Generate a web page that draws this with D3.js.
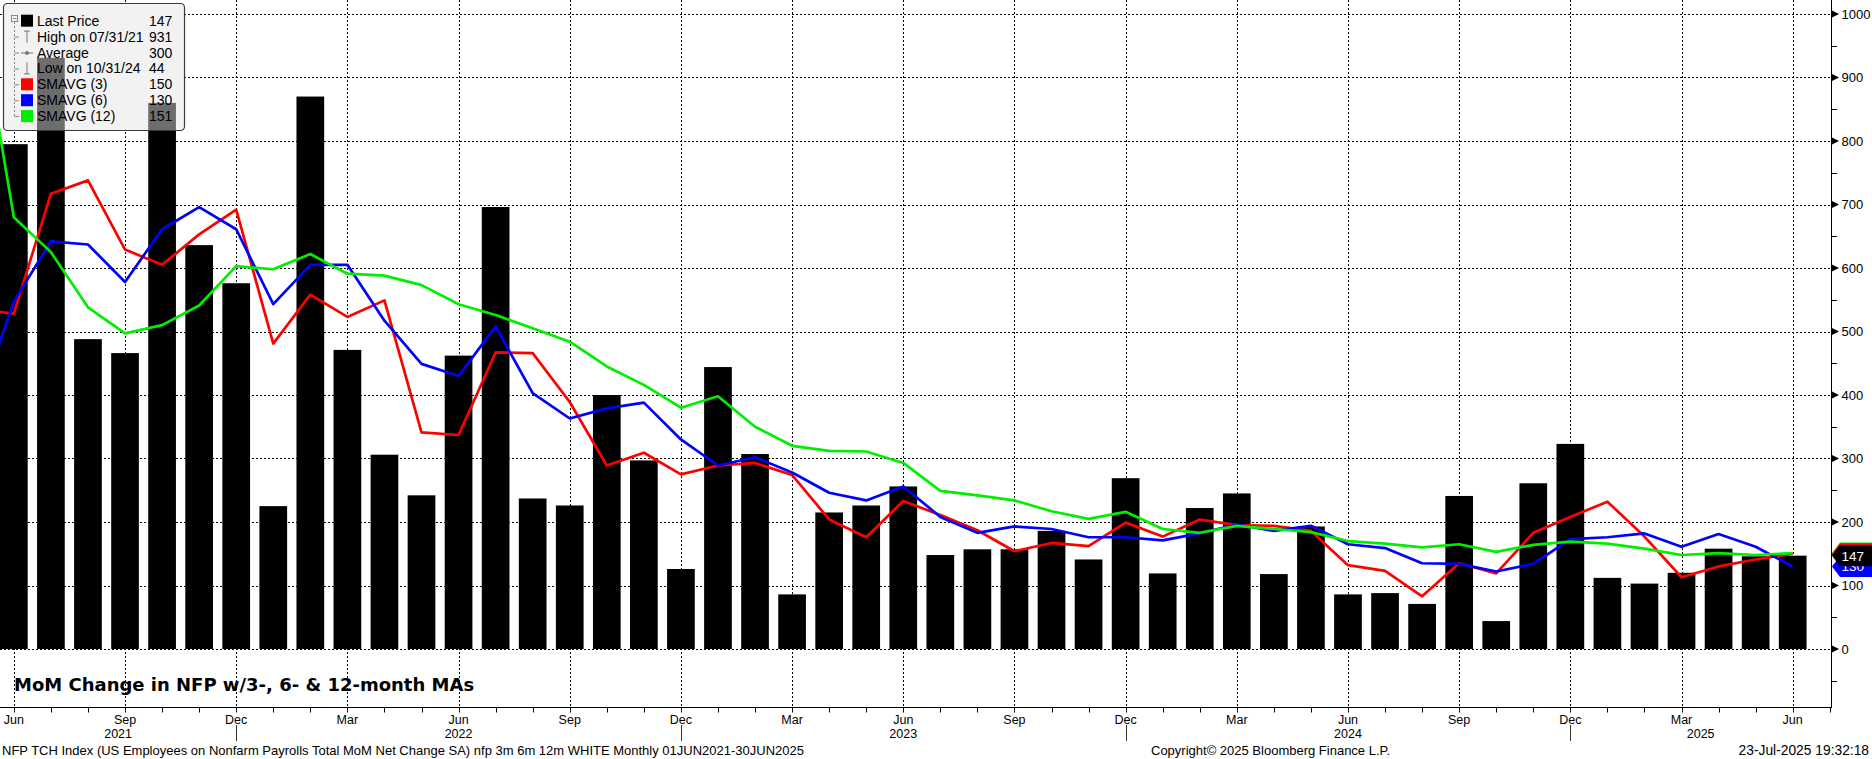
<!DOCTYPE html>
<html><head><meta charset="utf-8">
<script src="https://cdn.jsdelivr.net/npm/d3@7/dist/d3.min.js"></script>
<style>
html,body{margin:0;padding:0;background:#fff;overflow:hidden}
svg{display:block}
</style></head><body>
<svg id="chart" width="1872" height="759"></svg>
<script>
// ---------- DATA ----------
const months = ["2021-06","2021-07","2021-08","2021-09","2021-10","2021-11","2021-12",
"2022-01","2022-02","2022-03","2022-04","2022-05","2022-06","2022-07","2022-08","2022-09","2022-10","2022-11","2022-12",
"2023-01","2023-02","2023-03","2023-04","2023-05","2023-06","2023-07","2023-08","2023-09","2023-10","2023-11","2023-12",
"2024-01","2024-02","2024-03","2024-04","2024-05","2024-06","2024-07","2024-08","2024-09","2024-10","2024-11","2024-12",
"2025-01","2025-02","2025-03","2025-04","2025-05","2025-06"];
// MoM change in NFP (thousands)
const nfpChange = [795,931,488,466,860,636,576,
225,870,471,306,242,462,696,237,226,400,297,126,
444,307,86,215,226,256,148,157,157,186,141,269,
119,222,245,118,193,86,88,71,241,44,261,323,
112,103,120,158,146,147];
// Moving averages: first value is May 2021 (just left of the plot), then Jun 2021 .. Jun 2025
const sma3 = [536,528,717,738,629,605,653,692,
481,558,523,549,341,337,467,466,389,289,309,275,
289,293,274,204,176,233,211,187,154,167,162,199,
177,204,195,194,186,132,123,83,135,119,183,208,
232,177,113,130,141,150];
const sma6 = [378,547,642,637,578,661,696,661,
543,605,605,517,449,430,508,403,363,379,388,330,
289,302,278,246,234,256,208,183,193,189,176,176,
171,182,196,186,194,165,159,135,134,122,134,173,
176,182,161,181,161,130];
const sma12 = [1026,680,625,538,497,510,541,603,
598,622,591,588,573,543,526,505,484,445,416,380,
398,350,320,312,311,293,249,242,234,217,205,216,
189,183,194,189,184,170,166,160,165,153,164,169,
166,158,148,151,148,151];
const yTickValues = [0,100,200,300,400,500,600,700,800,900,1000];
const yMinorTicks = [-50,50,150,250,350,450,550,650,750,850,950];
const monthNames = ["Jan","Feb","Mar","Apr","May","Jun","Jul","Aug","Sep","Oct","Nov","Dec"];
const yearLabels = ["2021","2022","2023","2024","2025"];
const legendLabels = ["Last Price","High on 07/31/21","Average","Low on 10/31/24","SMAVG (3)","SMAVG (6)","SMAVG (12)"];
const legendValues = ["147","931","300","44","150","130","151"];
const flagValues = [{v:151,c:"#00ee00",t:""},{v:150,c:"#ff0000",t:""},{v:130,c:"#0000ff",t:"130"},{v:147,c:"#000000",t:"147"}];
const titleText = "MoM Change in NFP w/3-, 6- & 12-month MAs";
const footerLeft = "NFP TCH Index (US Employees on Nonfarm Payrolls Total MoM Net Change SA) nfp 3m 6m 12m WHITE  Monthly 01JUN2021-30JUN2025";
const footerMid = "Copyright\u00A9 2025 Bloomberg Finance L.P.";
const footerRight = "23-Jul-2025 19:32:18";

// ---------- LAYOUT ----------
const plotR = 1831, axisY = 707.5;
const svg = d3.select("#chart");
const x = d3.scaleLinear().domain([0, months.length-1]).range([13.85, 1792.7]);
const y = d3.scaleLinear().domain([0,1000]).range([649,14]);
const barW = 27.7;
const COL = {red:"#ff0000", blue:"#0000ff", green:"#00ee00"};
const FONT = "'Liberation Sans', Arial, sans-serif";

svg.append("rect").attr("width",1872).attr("height",759).attr("fill","#fff");
svg.append("defs").append("clipPath").attr("id","plotclip")
  .append("rect").attr("x",0).attr("y",0).attr("width",plotR).attr("height",axisY);

// gridlines
const grid = svg.append("g").attr("stroke","#000").attr("stroke-width",1).attr("stroke-dasharray","2,2");
yTickValues.forEach(v=>{
  const yy = Math.round(y(v))+0.5;
  grid.append("line").attr("x1",0).attr("x2",plotR).attr("y1",yy).attr("y2",yy);
});
months.forEach((m,i)=>{
  if (i%3===0){
    const xx = Math.round(x(i))+0.5;
    grid.append("line").attr("x1",xx).attr("x2",xx).attr("y1",0).attr("y2",axisY);
  }
});

// legend geometry
const LG = {x:3.5, y:3.5, w:181, h:127, rx:4};
svg.append("rect").attr("x",LG.x).attr("y",LG.y).attr("width",LG.w).attr("height",LG.h).attr("rx",LG.rx)
  .attr("fill","#f2f2f2");

// bars
svg.append("g").attr("clip-path","url(#plotclip)").selectAll("rect").data(nfpChange).join("rect")
  .attr("x",(d,i)=>x(i)-barW/2).attr("width",barW)
  .attr("y",d=>y(d)).attr("height",d=>y(0)-y(d)).attr("fill","#000");

// legend translucent overlay
svg.append("rect").attr("x",LG.x).attr("y",LG.y).attr("width",LG.w).attr("height",LG.h).attr("rx",LG.rx)
  .attr("fill","#f2f2f2").attr("fill-opacity",0.45).attr("stroke","#3a3a3a").attr("stroke-width",1.2);

// lines
const lineGen = d3.line().x((d,i)=>x(i-1)).y(d=>y(d));
const lg = svg.append("g").attr("clip-path","url(#plotclip)").attr("fill","none").attr("stroke-width",2.7).attr("stroke-linejoin","round");
[[sma3,COL.red],[sma6,COL.blue],[sma12,COL.green]].forEach(([arr,c])=>{
  lg.append("path").attr("d",lineGen(arr)).attr("stroke",c);
});

// legend contents
const rowY = i => 20.7 + i*15.9;
const leg = svg.append("g");
leg.append("rect").attr("x",11.5).attr("y",15.5).attr("width",6).attr("height",6).attr("fill","none").attr("stroke","#888").attr("stroke-width",1);
leg.append("line").attr("x1",13).attr("x2",16.5).attr("y1",18.5).attr("y2",18.5).attr("stroke","#888");
leg.append("line").attr("x1",14.5).attr("x2",14.5).attr("y1",22).attr("y2",rowY(6)).attr("stroke","#888").attr("stroke-dasharray","2,2");
legendLabels.forEach((t,i)=>{
  const cy = rowY(i);
  if (i>0) leg.append("line").attr("x1",14.5).attr("x2",19).attr("y1",cy+0.5).attr("y2",cy+0.5).attr("stroke","#888");
  const ic = leg.append("g").attr("stroke","#777").attr("stroke-width",1).attr("fill","none");
  if (i===0) leg.append("rect").attr("x",21).attr("y",cy-6).attr("width",12).attr("height",12).attr("fill","#000");
  else if (i===1){ ic.append("line").attr("x1",24).attr("x2",30).attr("y1",cy-5.5).attr("y2",cy-5.5); ic.append("line").attr("x1",27).attr("x2",27).attr("y1",cy-5.5).attr("y2",cy+6); }
  else if (i===2){ ic.append("line").attr("x1",21).attr("x2",33).attr("y1",cy+0.5).attr("y2",cy+0.5); ic.append("circle").attr("cx",27).attr("cy",cy+0.5).attr("r",1.5).attr("fill","#777"); }
  else if (i===3){ ic.append("line").attr("x1",24).attr("x2",30).attr("y1",cy+5.5).attr("y2",cy+5.5); ic.append("line").attr("x1",27).attr("x2",27).attr("y1",cy-6).attr("y2",cy+5.5); }
  else { const c=[COL.red,COL.blue,COL.green][i-4]; leg.append("rect").attr("x",21).attr("y",cy-6).attr("width",12).attr("height",12).attr("fill",c); }
  leg.append("text").attr("x",37).attr("y",cy).attr("dy","0.36em").attr("font-family",FONT).attr("font-size",14).attr("fill","#000").text(t);
  leg.append("text").attr("x",149).attr("y",cy).attr("dy","0.36em").attr("font-family",FONT).attr("font-size",14).attr("fill","#000").text(legendValues[i]);
});

// right axis
const ax = svg.append("g");
ax.append("line").attr("x1",plotR+0.5).attr("x2",plotR+0.5).attr("y1",0).attr("y2",axisY).attr("stroke","#000");
yTickValues.forEach(v=>{
  const yy = y(v);
  ax.append("path").attr("d",`M${plotR+1},${yy-3.5}L${plotR+8},${yy}L${plotR+1},${yy+3.5}Z`).attr("fill","#000");
  ax.append("text").attr("x",plotR+10.5).attr("y",yy).attr("dy","0.36em").attr("font-family",FONT).attr("font-size",13).attr("fill","#000").text(v);
});
yMinorTicks.forEach(v=>{
  const yy = Math.round(y(v))+0.5;
  ax.append("line").attr("x1",plotR).attr("x2",plotR+6).attr("y1",yy).attr("y2",yy).attr("stroke","#000");
});
// last value flags (the ones fully covered carry no visible text)
flagValues.forEach(f=>{
  const cy = y(f.v), h = 21;
  ax.append("path").attr("d",`M${plotR+1},${cy}L${plotR+9},${cy-h/2}L1872,${cy-h/2}L1872,${cy+h/2}L${plotR+9},${cy+h/2}Z`).attr("fill",f.c);
  if (f.t) ax.append("text").attr("x",plotR+10.5).attr("y",cy).attr("dy","0.36em").attr("font-family",FONT).attr("font-size",13.5).attr("fill","#fff").text(f.t);
});

// x axis
const xa = svg.append("g");
xa.append("line").attr("x1",0).attr("x2",plotR+1).attr("y1",axisY).attr("y2",axisY).attr("stroke","#000");
d3.range(0, months.length+1).forEach(i=>{
  const xx = Math.round(x(i))+0.5;
  if (xx<=plotR+1) xa.append("line").attr("x1",xx).attr("x2",xx).attr("y1",axisY).attr("y2",axisY+5).attr("stroke","#000");
});
months.forEach((m,i)=>{
  if (i%3===0){
    const mi = +m.slice(5)-1;
    xa.append("text").attr("x",x(i)).attr("y",719).attr("dy","0.36em").attr("text-anchor","middle")
      .attr("font-family",FONT).attr("font-size",12.5).attr("fill","#000").text(monthNames[mi]);
  }
});
const decIdx = months.map((m,i)=>m.endsWith("-12")?i:-1).filter(i=>i>=0);
decIdx.forEach(i=>{
  const xx = Math.round(x(i))+0.5;
  xa.append("line").attr("x1",xx).attr("x2",xx).attr("y1",725).attr("y2",741).attr("stroke","#000").attr("stroke-width",0.8);
});
const bounds = [0, ...decIdx.map(i=>x(i)), plotR];
yearLabels.forEach((yl,k)=>{
  xa.append("text").attr("x",(bounds[k]+bounds[k+1])/2).attr("y",733).attr("dy","0.36em").attr("text-anchor","middle")
    .attr("font-family",FONT).attr("font-size",12.5).attr("fill","#000").text(yl);
});

// title
svg.append("text").attr("x",14).attr("y",685).attr("dy","0.36em").attr("font-family","'DejaVu Sans', sans-serif")
  .attr("font-weight","bold").attr("font-size",18).attr("fill","#000").text(titleText);

// footer
svg.append("text").attr("x",2).attr("y",750).attr("dy","0.36em").attr("font-family",FONT).attr("font-size",13).attr("fill","#000").text(footerLeft);
svg.append("text").attr("x",1151).attr("y",750).attr("dy","0.36em").attr("font-family",FONT).attr("font-size",13).attr("fill","#000").text(footerMid);
svg.append("text").attr("x",1869).attr("y",750).attr("dy","0.36em").attr("text-anchor","end").attr("font-family",FONT).attr("font-size",13.8).attr("fill","#000").text(footerRight);
</script>
</body></html>
